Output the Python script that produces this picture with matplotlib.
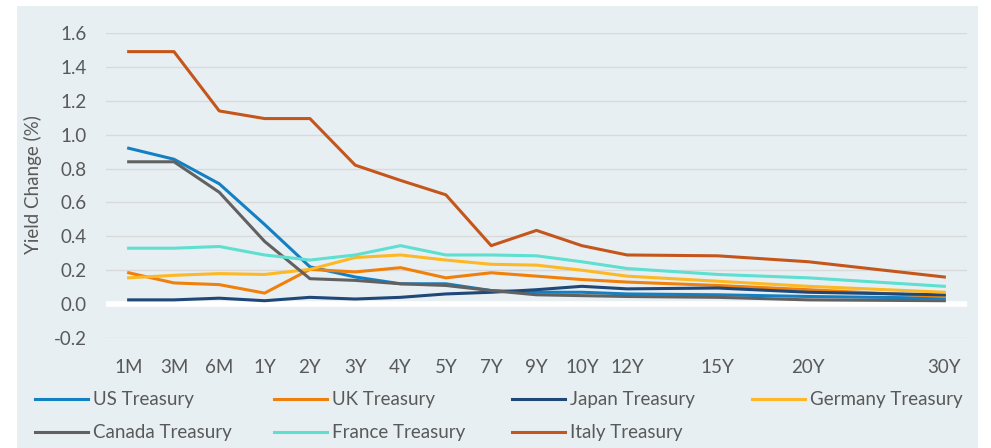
import matplotlib
matplotlib.use("Agg")
import matplotlib.pyplot as plt
from matplotlib.lines import Line2D
from matplotlib.patches import Rectangle

plt.rcParams["font.family"] = ["Lato", "DejaVu Sans"]

# ---------------------------------------------------------------------------
# Dati
# ---------------------------------------------------------------------------
tenors = ["1M", "3M", "6M", "1Y", "2Y", "3Y", "4Y", "5Y", "7Y", "9Y",
          "10Y", "12Y", "15Y", "20Y", "30Y"]
# posizione sull'asse a categorie (con slot vuoti tra 12Y, 15Y, 20Y, 30Y)
tenor_slot = [0, 1, 2, 3, 4, 5, 6, 7, 8, 9, 10, 11, 13, 15, 18]

us = [0.92, 0.855, 0.71, 0.47, 0.22, 0.16, 0.12, 0.12, 0.08, 0.07,
      0.07, 0.06, 0.055, 0.045, 0.035]
uk = [0.185, 0.125, 0.115, 0.065, 0.205, 0.19, 0.215, 0.155, 0.185, 0.165,
      0.145, 0.13, 0.11, 0.085, 0.045]
japan = [0.025, 0.025, 0.035, 0.02, 0.04, 0.03, 0.04, 0.06, 0.07, 0.085,
         0.105, 0.09, 0.095, 0.07, 0.055]
germany = [0.155, 0.17, 0.18, 0.175, 0.205, 0.275, 0.29, 0.26, 0.235, 0.23,
           0.2, 0.165, 0.135, 0.105, 0.07]
canada = [0.84, 0.84, 0.66, 0.37, 0.15, 0.14, 0.12, 0.11, 0.08, 0.055,
          0.05, 0.045, 0.04, 0.025, 0.02]
france = [0.33, 0.33, 0.34, 0.29, 0.26, 0.29, 0.345, 0.29, 0.29, 0.285,
          0.25, 0.21, 0.175, 0.155, 0.105]
italy = [1.49, 1.49, 1.14, 1.095, 1.095, 0.82, 0.73, 0.645, 0.345, 0.435,
         0.345, 0.29, 0.285, 0.25, 0.16]

series_names = ["US Treasury", "UK Treasury", "Japan Treasury", "Germany Treasury",
                "Canada Treasury", "France Treasury", "Italy Treasury"]
series_values = [us, uk, japan, germany, canada, france, italy]
series_colors = ["#1380C4", "#F0800C", "#1F4778", "#FDB825",
                 "#616161", "#5EDFD0", "#C5561B"]

y_ticks = [-0.2, 0.0, 0.2, 0.4, 0.6, 0.8, 1.0, 1.2, 1.4, 1.6]

# ---------------------------------------------------------------------------
# Figura
# ---------------------------------------------------------------------------
W, H = 991, 448
bg = "#E7EFF2"
txt = "#595959"

fig = plt.figure(figsize=(W / 100, H / 100), dpi=100)
fig.patch.set_facecolor("white")
fig.patches.append(Rectangle((17 / W, 0), (978 - 17) / W, (H - 6) / H,
                             transform=fig.transFigure, facecolor=bg,
                             edgecolor="none", zorder=-10))

ax = fig.add_axes([106 / W, (H - 338) / H, (967 - 106) / W, (338 - 33) / H])
ax.set_facecolor("none")

for name, vals, col in zip(series_names, series_values, series_colors):
    ax.plot(tenor_slot, vals, color=col, lw=2.2, label=name, zorder=3)

ax.axhline(0, color="white", lw=4, zorder=2)
ax.set_ylim(-0.2, 1.6)
ax.set_xlim(-0.5, 18.5)
ax.set_yticks(y_ticks)
ax.set_yticklabels([f"{v:.1f}" for v in y_ticks])
ax.set_xticks(tenor_slot)
ax.set_xticklabels(tenors)
ax.grid(axis="y", color="#D9D9D9", lw=1.0, zorder=1)
ax.set_axisbelow(True)
for s in ax.spines.values():
    s.set_visible(False)
ax.tick_params(axis="both", length=0, labelsize=13.5, labelcolor=txt)
ax.tick_params(axis="y", pad=14)
ax.tick_params(axis="x", pad=15)

fig.text(33 / W, (H - 185) / H, "Yield Change (%)", rotation=90,
         ha="center", va="center", fontsize=13.5, color=txt)

# Legenda a colonne fisse (stile Excel)
col_x = [35, 274, 512, 752]
row_y = [399, 432]
for i, (name, col) in enumerate(zip(series_names, series_colors)):
    x0 = col_x[i % 4]
    y0 = row_y[i // 4]
    fig.lines.append(Line2D([x0 / W, (x0 + 53) / W], [(H - y0) / H] * 2,
                            transform=fig.transFigure, color=col, lw=2.2))
    fig.text((x0 + 58) / W, (H - y0) / H, name, ha="left", va="center",
             fontsize=13.5, color=txt)

plt.savefig("out.png", dpi=100, facecolor=fig.get_facecolor())
plt.close(fig)
